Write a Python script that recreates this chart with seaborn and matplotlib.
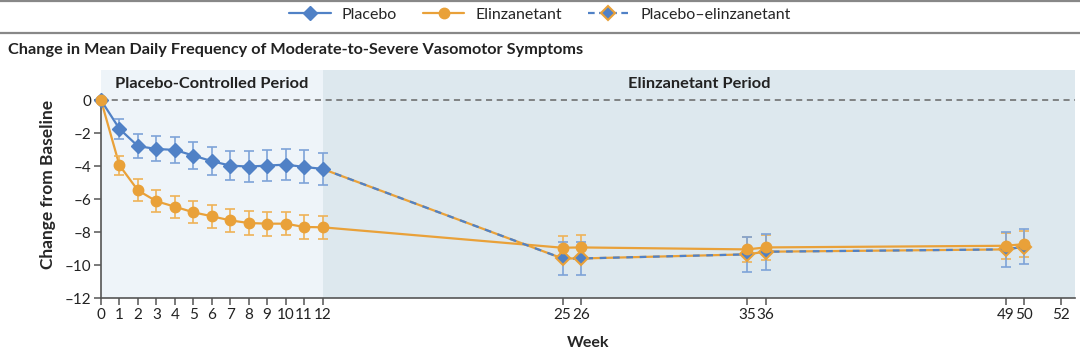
import numpy as np
import pandas as pd
import matplotlib.pyplot as plt
import seaborn as sns
from matplotlib.lines import Line2D

# placebo-controlled period, weeks 0-12
pc_weeks = list(range(0, 13))
placebo = [0, -1.74, -2.79, -2.96, -3.02, -3.36, -3.70, -3.97, -4.03, -3.97, -3.91, -4.05, -4.17]
placebo_err = [0, 0.60, 0.73, 0.76, 0.79, 0.82, 0.86, 0.89, 0.95, 0.96, 0.93, 1.00, 0.96]

# elinzanetant arm, whole study
elin_weeks = list(range(0, 13)) + [25, 26, 35, 36, 49, 50]
elin = [0, -3.95, -5.47, -6.13, -6.46, -6.80, -7.04, -7.29, -7.45, -7.49, -7.49, -7.69, -7.71,
        -8.95, -8.93, -9.05, -8.93, -8.83, -8.73]
elin_err = [0, 0.57, 0.66, 0.67, 0.67, 0.67, 0.71, 0.69, 0.71, 0.72, 0.70, 0.71, 0.71,
            0.73, 0.75, 0.78, 0.78, 0.80, 0.80]

# placebo switched to elinzanetant
sw_weeks = [12, 25, 26, 35, 36, 49, 50]
switch = [-4.17, -9.60, -9.60, -9.35, -9.19, -9.05, -8.89]
switch_err = [0, 0.99, 1.00, 1.06, 1.09, 1.04, 1.05]

xticks = list(range(0, 13)) + [25, 26, 35, 36, 49, 50, 52]
yticks = [0, -2, -4, -6, -8, -10, -12]

blue = "#5081c6"
orange = "#e9a139"
blue_err = "#7ea3d8"
orange_err = "#efb358"

sns.set_style("ticks")
plt.rcParams['font.family'] = ['Lato', 'DejaVu Sans']

fig = plt.figure(figsize=(10.8, 3.54), dpi=100)
ax = fig.add_axes([0.0935, 0.158, 0.9019, 0.644])

xmax = 52.76
ax.axvspan(0, 12, color="#eef4f9", zorder=0, lw=0)
ax.axvspan(12, xmax, color="#dde8ee", zorder=0, lw=0)
ax.axhline(0, color="#666666", ls=(0, (4, 3)), lw=1.1, zorder=1)

# lines
sns.lineplot(x=elin_weeks, y=elin, ax=ax, color=orange, lw=1.6, zorder=3)
sns.lineplot(x=pc_weeks, y=placebo, ax=ax, color=blue, lw=1.6, zorder=3)
ax.plot(sw_weeks, switch, color=orange, lw=1.6, zorder=3)
ax.plot(sw_weeks, switch, color=blue, lw=1.6, ls=(0, (3, 3)), zorder=3)

# error bars
ax.errorbar(pc_weeks[1:], placebo[1:], yerr=placebo_err[1:], fmt='none', ecolor=blue_err,
            elinewidth=1.2, capsize=3.5, capthick=1.2, zorder=4)
ax.errorbar(elin_weeks[1:], elin[1:], yerr=elin_err[1:], fmt='none', ecolor=orange_err,
            elinewidth=1.2, capsize=3.5, capthick=1.2, zorder=4)
ax.errorbar(sw_weeks[1:], switch[1:], yerr=switch_err[1:], fmt='none', ecolor=blue_err,
            elinewidth=1.2, capsize=3.5, capthick=1.2, zorder=4)

# markers
ax.plot(pc_weeks, placebo, 'D', color=blue, ms=7, mec=blue, zorder=5, clip_on=False)
ax.plot(sw_weeks[1:], switch[1:], 'D', color=blue, ms=7, mec=orange, mew=1.5, zorder=5)
ax.plot(elin_weeks, elin, 'o', color=orange, ms=7.5, zorder=6, clip_on=False)

ax.set_xlim(0, xmax)
ax.set_ylim(-12, 1.82)
ax.set_xticks(xticks)
ax.set_xticklabels([str(t) for t in xticks])
ax.set_yticks(yticks)
ax.set_yticklabels([str(t).replace('-', '\u2013') for t in yticks])
ax.tick_params(axis='both', labelsize=11, color="#555555", length=5, width=1.1,
               labelcolor="#222222", pad=2)
for s in ['top', 'right']:
    ax.spines[s].set_visible(False)
for s in ['left', 'bottom']:
    ax.spines[s].set_color("#555555")
    ax.spines[s].set_linewidth(1.2)
ax.spines['left'].set_bounds(-12, 0)

ax.set_xlabel("Week", fontsize=11.5, fontweight='bold', labelpad=10)
ax.set_ylabel("Change from Baseline", fontsize=12.5, fontweight='bold', labelpad=6)

ax.text(6, 0.95, "Placebo-Controlled Period", ha='center', va='center', fontsize=11.8,
        fontweight='bold', color="#222222")
ax.text((12 + xmax) / 2, 0.95, "Elinzanetant Period", ha='center', va='center', fontsize=11.8,
        fontweight='bold', color="#222222")

fig.text(0.007, 0.858, "Change in Mean Daily Frequency of Moderate-to-Severe Vasomotor Symptoms",
         fontsize=11.7, fontweight='bold', color="#222222", va='center')

# top rules
for yy in [0.998, 0.908]:
    fig.add_artist(Line2D([0, 1], [yy, yy], transform=fig.transFigure, color="#888888", lw=1.6))

handles = [
    Line2D([], [], color=blue, marker='D', ms=7, lw=1.6),
    Line2D([], [], color=orange, marker='o', ms=7.5, lw=1.6),
    Line2D([], [], color=blue, ls=(0, (3, 2)), marker='D', ms=7, mec=orange, mew=1.5, lw=1.6),
]
fig.legend(handles, ["Placebo", "Elinzanetant", "Placebo\u2013elinzanetant"], loc='center',
           bbox_to_anchor=(0.5, 0.958), ncol=3, frameon=False, fontsize=11.5, handlelength=2.6,
           columnspacing=1.6, handletextpad=0.7)

fig.savefig("out.png", dpi=100)
